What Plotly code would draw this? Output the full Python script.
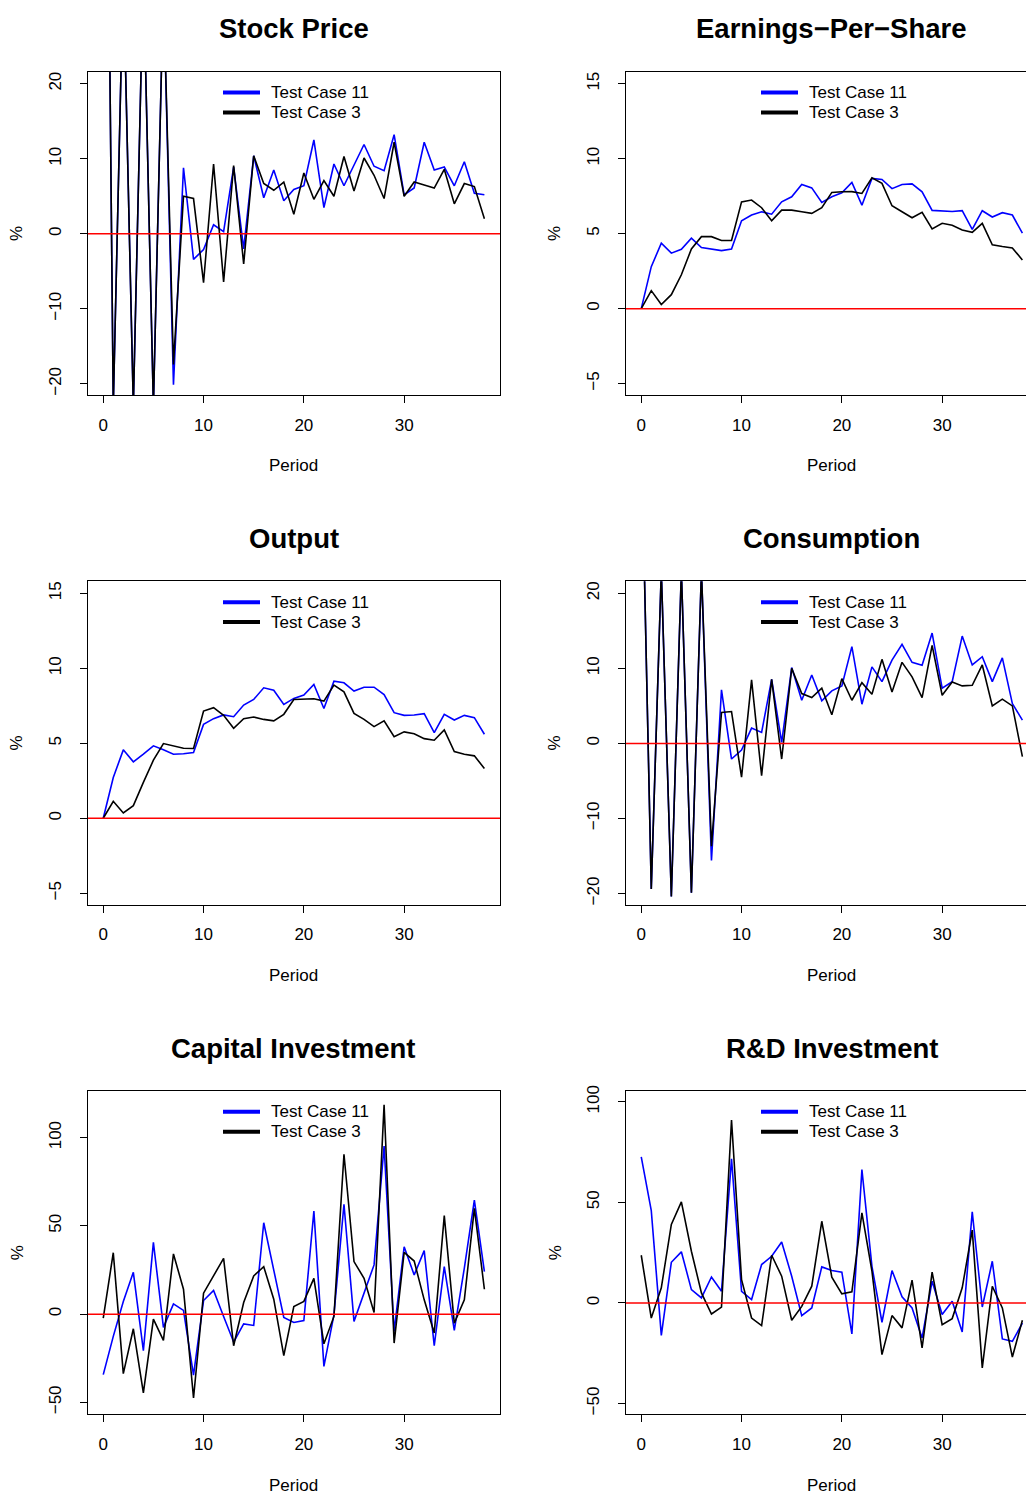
import plotly.graph_objects as go

# periods
period = list(range(39))

# Stock Price (%)
stock_tc11 = [110, -23, 35, -23, 35, -23, 33, -20.1, 8.8, -3.4, -2.1, 1.2, 0.3, 8.9, -2.0, 10.4, 4.8, 8.5, 4.4, 5.9,
              6.4, 12.5, 3.5, 9.3, 6.4, 9.2, 11.9, 9.0, 8.4, 13.2, 5.2, 6.1, 12.2, 8.5, 8.9, 6.4, 9.6, 5.4, 5.2]
stock_tc3 = [110, -23, 35, -23, 35, -23, 33, -17.4, 5.0, 4.7, -6.5, 9.3, -6.4, 9.1, -4.0, 10.4, 6.7, 5.8, 6.9, 2.6,
             8.1, 4.6, 7.1, 5.0, 10.3, 5.7, 10.1, 7.8, 4.7, 12.2, 5.0, 6.9, 6.5, 6.1, 8.6, 4.0, 6.7, 6.3, 2.0]

# Earnings-Per-Share (%)
eps_tc11 = [0, 2.8, 4.36, 3.7, 3.96, 4.7, 4.07, 3.98, 3.87, 3.98, 5.86, 6.24, 6.46, 6.3, 7.12, 7.46, 8.28, 8.05, 7.08, 7.46,
            7.72, 8.41, 6.9, 8.68, 8.61, 8.0, 8.28, 8.32, 7.79, 6.55, 6.5, 6.48, 6.53, 5.29, 6.53, 6.11, 6.4, 6.24, 5.03]
eps_tc3 = [0, 1.2, 0.27, 0.93, 2.26, 3.98, 4.8, 4.8, 4.54, 4.54, 7.12, 7.24, 6.73, 5.86, 6.57, 6.57, 6.46, 6.35, 6.73, 7.75,
           7.79, 7.8, 7.68, 8.72, 8.35, 6.86, 6.46, 6.06, 6.42, 5.31, 5.69, 5.56, 5.25, 5.09, 5.69, 4.25, 4.14, 4.05, 3.25]

# Output (%)
output_tc11 = [0, 2.72, 4.56, 3.76, 4.27, 4.83, 4.56, 4.27, 4.3, 4.38, 6.26, 6.64, 6.89, 6.77, 7.55, 7.92, 8.7, 8.54, 7.59, 7.99,
               8.21, 8.92, 7.32, 9.14, 9.03, 8.48, 8.74, 8.74, 8.25, 7.04, 6.86, 6.88, 6.97, 5.71, 6.93, 6.55, 6.86, 6.71, 5.6]
output_tc3 = [0, 1.13, 0.35, 0.84, 2.39, 3.87, 4.98, 4.83, 4.67, 4.65, 7.15, 7.37, 6.86, 6.0, 6.64, 6.75, 6.59, 6.49, 6.93, 7.92,
              7.97, 7.97, 7.81, 8.88, 8.43, 6.99, 6.59, 6.11, 6.49, 5.44, 5.76, 5.64, 5.31, 5.2, 5.89, 4.45, 4.27, 4.16, 3.32]

# Consumption (%)
cons_tc11 = [42, -19.4, 23, -20.4, 23, -19.9, 23, -15.6, 7.13, -2.08, -0.89, 2.04, 1.46, 8.54, 0.13, 10.1, 5.75, 9.12, 5.67, 7.0,
             7.66, 12.9, 5.22, 10.2, 8.23, 11.1, 13.2, 10.8, 10.4, 14.7, 7.35, 8.23, 14.3, 10.45, 11.55, 8.23, 11.4, 5.31, 3.1]
cons_tc3 = [42, -19.4, 23, -20.4, 23, -19.9, 23, -13.7, 4.12, 4.25, -4.5, 8.46, -4.29, 8.54, -2.08, 10.0, 6.64, 6.11, 7.35, 3.81,
            8.63, 5.75, 8.1, 6.55, 11.2, 6.86, 10.8, 8.86, 6.11, 13.05, 6.42, 8.19, 7.66, 7.75, 10.45, 5.0, 5.89, 5.0, -1.77]

# Capital Investment (%)
cap_tc11 = [-34.3, -12.6, 7.2, 23.7, -20.7, 40.7, -7.5, 5.8, 2.1, -34.6, 7.7, 13.4, -1.3, -15.8, -5.5, -6.4, 51.8, 25.0, -1.9, -4.7,
            -3.6, 58.4, -29.6, -0.4, 62.3, -4.1, 11.5, 27.9, 95.3, -9.8, 38.2, 22.2, 36.0, -17.9, 26.9, -9.2, 26.1, 64.6, 24.1]
cap_tc3 = [-2.3, 34.8, -33.7, -8.3, -44.6, -2.8, -14.9, 34.1, 14.1, -47.5, 11.9, 21.7, 31.6, -17.9, 6.6, 21.7, 26.9, 8.5, -23.5, 4.3,
           7.2, 20.3, -16.8, -1.3, 90.6, 29.8, 20.3, 0.9, 118.6, -16.4, 35.0, 30.1, 8.1, -10.7, 55.8, -5.1, 8.1, 59.9, 14.1]

# R&D Investment (%)
rd_tc11 = [72.6, 45.9, -16.1, 20.2, 25.4, 6.6, 2.5, 12.9, 5.8, 71.6, 5.8, 1.7, 19.1, 23.2, 30.3, 13.3, -6.3, -2.5, 17.9, 16.1,
           15.3, -15.4, 66.3, 18.2, -9.6, 16.1, 3.0, -2.5, -17.4, 10.8, -5.8, 0.8, -14.4, 45.3, -2.0, 20.7, -17.9, -19.1, -10.0]
rd_tc3 = [23.7, -7.5, 7.5, 39.0, 50.2, 25.7, 5.0, -5.5, -2.1, 90.9, 11.6, -7.5, -11.3, 23.7, 13.3, -8.6, -1.7, 8.3, 40.6, 12.8,
          4.5, 5.5, 44.8, 15.8, -25.7, -6.3, -12.4, 11.3, -22.4, 15.3, -10.8, -7.8, 7.5, 36.2, -32.3, 8.3, -2.5, -26.9, -8.6]

titles = ["Stock Price", "Earnings−Per−Share", "Output", "Consumption", "Capital Investment", "R&D Investment"]
series = [(stock_tc11, stock_tc3), (eps_tc11, eps_tc3), (output_tc11, output_tc3),
          (cons_tc11, cons_tc3), (cap_tc11, cap_tc3), (rd_tc11, rd_tc3)]
legend_names = ["Test Case 11", "Test Case 3"]
legend_colors = ["#0000FF", "#000000"]
yranges = [[-21.5, 21.6], [-5.77, 15.8], [-5.77, 15.8], [-21.5, 21.6], [-56.8, 126.5], [-55.4, 105.4]]
ydticks = [10, 5, 5, 10, 50, 50]

W, H = 1026, 1496
FONT = "Liberation Sans, Arial, Helvetica, sans-serif"

fig = go.Figure()

# pixel geometry of the R device
box_left = [88, 626]
box_right = [500, 1026]
box_top = [66, 578, 1090]
box_bot = [391, 903, 1415]
px_per_period = 10.03

annotations = []
shapes = []
layout_axes = {}

for i in range(6):
    row, col = i // 2, i % 2
    n = "" if i == 0 else str(i + 1)
    xa, ya = "x" + n, "y" + n
    blue, black = series[i]

    fig.add_trace(go.Scatter(x=period, y=blue, mode="lines", line=dict(color="#0000FF", width=1.6),
                             xaxis=xa, yaxis=ya, name=legend_names[0], showlegend=False))
    fig.add_trace(go.Scatter(x=period, y=black, mode="lines", line=dict(color="#000000", width=1.6),
                             xaxis=xa, yaxis=ya, name=legend_names[1], showlegend=False))

    x0 = box_left[col]
    x1 = box_right[col]
    xmax = -1.52 + (x1 - x0) / px_per_period
    layout_axes["xaxis" + n] = dict(
        domain=[x0 / W, x1 / W], range=[-1.52, xmax], anchor=ya,
        tickmode="array", tickvals=[0, 10, 20, 30],
        showline=True, linecolor="black", linewidth=1, mirror=True,
        ticks="outside", ticklen=7, tickcolor="black", tickwidth=1,
        ticklabelstandoff=7,
        showgrid=False, zeroline=False,
        tickfont=dict(family=FONT, size=17, color="black"),
    )
    lo, hi = yranges[i]
    d = ydticks[i]
    tv = [v for v in range(-100, 150, d) if lo < v < hi]
    layout_axes["yaxis" + n] = dict(
        domain=[1 - box_bot[row] / H, 1 - box_top[row] / H], range=[lo, hi], anchor=xa,
        tickmode="array", tickvals=tv, tickangle=-90,
        showline=True, linecolor="black", linewidth=1, mirror=(col == 0),
        ticks="outside", ticklen=7, tickcolor="black", tickwidth=1,
        ticklabelstandoff=12,
        showgrid=False, zeroline=False,
        tickfont=dict(family=FONT, size=17, color="black"),
    )

    # red zero line
    shapes.append(dict(type="line", xref=xa + " domain", yref=ya, x0=0, x1=1, y0=0, y1=0,
                       line=dict(color="#FF0000", width=1.5), layer="above"))

    cx = x0 + 411.7 / 2
    yoff = row * 512
    annotations.append(dict(text="<b>" + titles[i] + "</b>", xref="paper", yref="paper",
                            x=cx / W, y=1 - (23 + yoff) / H, showarrow=False,
                            font=dict(family=FONT, size=27.5, color="black"),
                            xanchor="center", yanchor="middle"))
    annotations.append(dict(text="Period", xref="paper", yref="paper",
                            x=cx / W, y=1 - (462 + yoff) / H, showarrow=False,
                            font=dict(family=FONT, size=17, color="black"),
                            xanchor="center", yanchor="middle"))
    annotations.append(dict(text="%", xref="paper", yref="paper", textangle=-90,
                            x=(17 + col * 538) / W, y=1 - (229 + yoff) / H, showarrow=False,
                            font=dict(family=FONT, size=17, color="black"),
                            xanchor="center", yanchor="middle"))

    # legend (R style, no box)
    for k in range(2):
        ly = box_top[row] + 21 + 20 * k
        shapes.append(dict(type="line", xref="paper", yref="paper",
                           x0=(x0 + 135) / W, x1=(x0 + 172) / W, y0=1 - ly / H, y1=1 - ly / H,
                           line=dict(color=legend_colors[k], width=4)))
        annotations.append(dict(text=legend_names[k], xref="paper", yref="paper",
                                x=(x0 + 181) / W, y=1 - ly / H, showarrow=False,
                                font=dict(family=FONT, size=17, color="black"),
                                xanchor="left", yanchor="middle"))

fig.update_layout(
    width=W, height=H,
    margin=dict(l=0, r=0, t=0, b=0),
    paper_bgcolor="white", plot_bgcolor="white",
    annotations=annotations, shapes=shapes, showlegend=False,
    font=dict(family=FONT, color="black"),
    **layout_axes,
)

fig.write_html("out.html", config={"displayModeBar": False},
               post_script="document.body.style.margin='0';document.body.style.overflow='hidden';")
